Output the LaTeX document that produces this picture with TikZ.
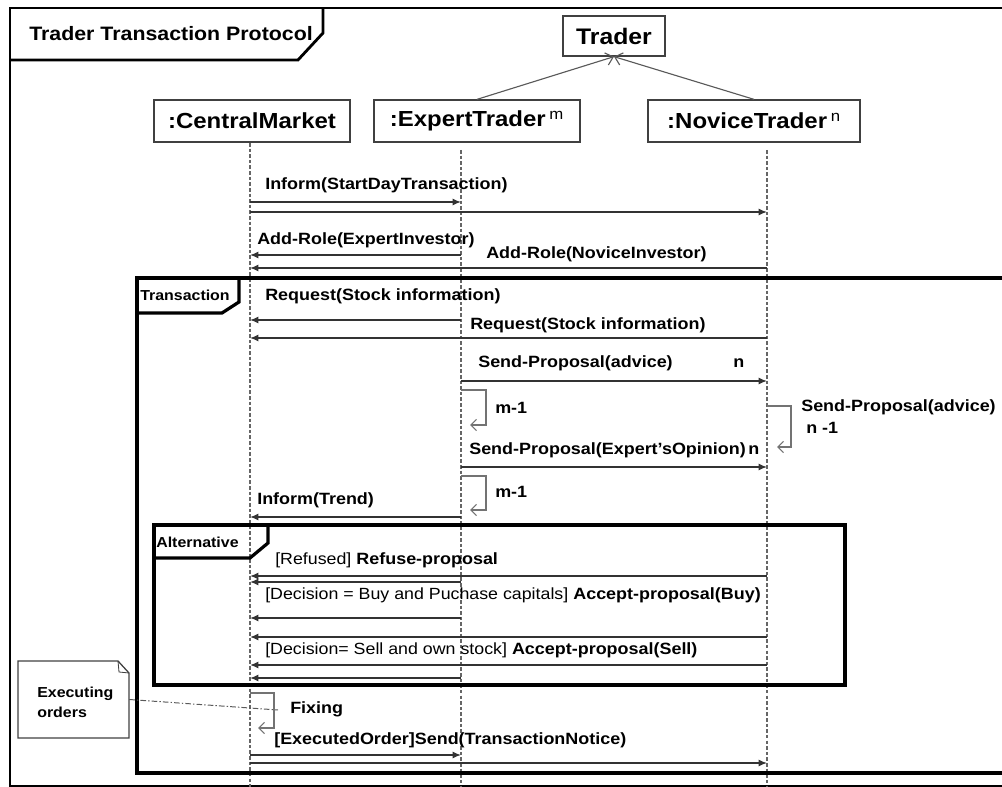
\documentclass[tikz,border=0pt]{standalone}
\usepackage{fontspec}
\setmainfont{Liberation Sans}[FakeStretch=1.1]
\usetikzlibrary{arrows.meta}

\newcommand{\guardtxt}[1]{{\fontsize{11.5}{13}\selectfont\mdseries #1}}

\begin{document}
\begin{tikzpicture}[x=0.025cm, y=-0.025cm,
  frame/.style={draw=black, line width=2.3pt},
  head/.style={draw=black!75, line width=0.9pt, fill=white, inner sep=0pt, font=\fontsize{15.5}{18}\selectfont\bfseries},
  life/.style={draw=black!60, line width=0.8pt, dash pattern=on 2.5pt off 1.5pt},
  msg/.style={draw=black!80, line width=1pt, -{Latex[length=6pt,width=5pt]}},
  selfmsg/.style={draw=black!55, line width=0.8pt, -{Straight Barb[length=4pt,width=8pt]}},
  gen/.style={draw=black!65, line width=0.8pt, -{Straight Barb[length=5pt,width=9pt]}},
  lbl/.style={anchor=west, inner sep=0pt, font=\fontsize{11.6}{13}\selectfont\bfseries},
  tablbl/.style={anchor=west, inner sep=0pt, font=\fontsize{10.3}{12}\selectfont\bfseries}]
\useasboundingbox (0,0) rectangle (1002,787);
\clip (0,0) rectangle (1002,787);

% Outer frame and title
\draw[frame, line width=2pt] (10,8) rectangle (1030,786);
\draw[frame, line width=2pt] (10,60) -- (298,60) -- (323,33) -- (323,8);
\node[anchor=west, inner sep=0pt, font=\fontsize{13.8}{16}\selectfont\bfseries] (title) at (29,34) {Trader Transaction Protocol};

% Classes and lifeline heads
\node[head, minimum width=2.55cm, minimum height=1cm, font=\fontsize{16}{18}\selectfont\bfseries] (trader) at (614,36) {Trader};
\node[head, minimum width=4.9cm, minimum height=1.05cm] (cm) at (252,121) {:CentralMarket};
\node[head, minimum width=5.15cm, minimum height=1.05cm] (et) at (477,121) {:ExpertTrader\,\textsuperscript{\mdseries m}};
\node[head, minimum width=5.3cm, minimum height=1.05cm] (nt) at (754,121) {:NoviceTrader\,\textsuperscript{\mdseries n}};

% Generalization
\draw[gen] (et.north) -- (trader.south);
\draw[gen] (nt.north) -- (trader.south);

% Lifelines
\coordinate (cmL) at (250,143);
\coordinate (etL) at (461,150);
\coordinate (ntL) at (767,150);
\draw[life] (cmL) -- (cmL |- 0,787);
\draw[life] (etL) -- (etL |- 0,787);
\draw[life] (ntL) -- (ntL |- 0,787);

% Start of day
\draw[msg] (cmL |- 0,202) -- (etL |- 0,202);
\draw[msg] (cmL |- 0,212) -- (ntL |- 0,212);
\node[lbl] (informStart) at (265,185) {Inform(StartDayTransaction)};
\draw[msg] (etL |- 0,255) -- (cmL |- 0,255);
\draw[msg] (ntL |- 0,268) -- (cmL |- 0,268);
\node[lbl] (roleExpert) at (257,240) {Add-Role(ExpertInvestor)};
\node[lbl] (roleNovice) at (486,254) {Add-Role(NoviceInvestor)};

% Transaction frame
\draw[frame] (137,278) rectangle (1030,773);
\draw[frame] (137,313) -- (222,313) -- (239,302) -- (239,278);
\node[tablbl] (transTab) at (140,295) {Transaction};

\node[lbl] (reqExpert) at (265,296) {Request(Stock information)};
\draw[msg] (etL |- 0,320) -- (cmL |- 0,320);
\node[lbl] (reqNovice) at (470,325) {Request(Stock information)};
\draw[msg] (ntL |- 0,338) -- (cmL |- 0,338);

\node[lbl] (advice) at (478,363) {Send-Proposal(advice)};
\node[lbl] (adviceN) at (733,363) {n};
\draw[msg] (etL |- 0,381) -- (ntL |- 0,381);
\draw[selfmsg] (etL |- 0,390) -- ++(25,0) -- ++(0,35) -- ++(-16,0);
\node[lbl] (loopA) at (495,408) {m-1};
\draw[selfmsg] (ntL |- 0,406) -- ++(24,0) -- ++(0,41) -- ++(-14,0);
\node[lbl] (adviceNovice) at (801,407) {Send-Proposal(advice)};
\node[lbl] (loopN) at (806,428) {n -1};

\node[lbl] (opinion) at (469,450) {Send-Proposal(Expert'sOpinion)\,n};
\draw[msg] (etL |- 0,467) -- (ntL |- 0,467);
\draw[selfmsg] (etL |- 0,476) -- ++(25,0) -- ++(0,34) -- ++(-16,0);
\node[lbl] (loopB) at (495,492) {m-1};
\node[lbl] (trend) at (257,500) {Inform(Trend)};
\draw[msg] (etL |- 0,517) -- (cmL |- 0,517);

% Alternative frame
\draw[frame] (154,525) rectangle (845,685);
\draw[frame] (154,558) -- (250,558) -- (268,543) -- (268,525);
\node[tablbl] (altTab) at (156,542) {Alternative};

\node[lbl] (refuse) at (275,560) {\guardtxt{[Refused]} Refuse-proposal};
\draw[msg] (ntL |- 0,576) -- (cmL |- 0,576);
\draw[msg] (etL |- 0,582) -- (cmL |- 0,582);
\node[lbl] (buy) at (265,595) {\guardtxt{[Decision = Buy and Puchase capitals]} Accept-proposal(Buy)};
\draw[msg] (etL |- 0,618) -- (cmL |- 0,618);
\draw[msg] (ntL |- 0,637) -- (cmL |- 0,637);
\node[lbl] (sell) at (265,650) {\guardtxt{[Decision= Sell and own stock]} Accept-proposal(Sell)};
\draw[msg] (ntL |- 0,665) -- (cmL |- 0,665);
\draw[msg] (etL |- 0,678) -- (cmL |- 0,678);

% Fixing and notice
\draw[selfmsg] (cmL |- 0,693) -- ++(24,0) -- ++(0,35) -- ++(-16,0);
\coordinate (fixMid) at (278,710);
\node[lbl] (fixing) at (290,709) {Fixing};
\node[lbl] (notice) at (274,740) {[ExecutedOrder]Send(TransactionNotice)};
\draw[msg] (cmL |- 0,755) -- (etL |- 0,755);
\draw[msg] (cmL |- 0,763) -- (ntL |- 0,763);

% Note
\draw[draw=black!75, line width=0.9pt] (18,661) -- (118,661) -- (129,673) -- (129,738) -- (18,738) -- cycle;
\draw[draw=black!75, line width=0.6pt] (118,661) -- (119,672) -- (129,673);
\node[minimum width=2.77cm, minimum height=1.92cm, inner sep=0pt] (note) at (73.5,699.5) {};
\node[anchor=west, align=left, inner sep=0pt, font=\fontsize{10.3}{14}\selectfont\bfseries] (noteText) at (37,702) {Executing\\orders};
\draw[draw=black!65, line width=0.7pt, dash pattern=on 4pt off 1.5pt on 1pt off 1.5pt] (note.east) -- (fixMid);

\end{tikzpicture}
\end{document}
